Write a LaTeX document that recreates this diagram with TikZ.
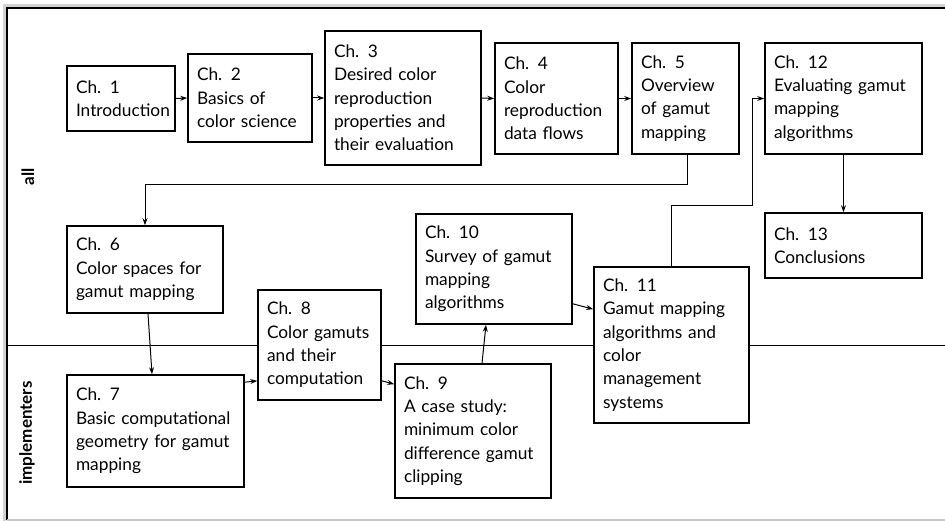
\documentclass[tikz,border=0pt]{standalone}
\usepackage{fontspec}
\setmainfont{Lato}
\usepackage{tikz}
\usetikzlibrary{positioning,calc,arrows.meta}

\tikzset{
	chapbox/.style={draw,line width=1.6pt,fill=white,rectangle,align=left,
		inner xsep=9pt,inner ysep=0pt,font=\fontsize{17.3}{23.3}\selectfont},
	grouplabel/.style={rotate=90,font=\fontsize{17}{20}\selectfont\bfseries},
}

\begin{document}
\begin{tikzpicture}[x=1pt,y=-1pt,>={Stealth[length=7pt,width=5pt]},line width=1pt]
\useasboundingbox (0,0) rectangle (945,521);

% frame and the line between the two groups
\draw[gray!35,line width=3pt] (4.5,530) -- (4.5,5.5) -- (960,5.5);
\draw[line width=1.8pt] (7,520) -- (7,8) -- (960,8);
\draw[gray!45,line width=1.5pt] (7,520) -- (960,520);
\draw (7,345) -- (960,345);

\node[grouplabel] (all) at (28,177) {all};
\node[grouplabel] (impl) at (27,433) {implementers};

\node[chapbox,text width=90pt, minimum height=65pt ] (c1)  at (121,98.5)   {Ch. 1\\Introduction};
\node[chapbox,text width=106pt,minimum height=88pt ] (c2)  at (250,98)     {Ch. 2\\Basics of\\color science};
\node[chapbox,text width=138pt,minimum height=134pt] (c3)  at (403,98)     {Ch. 3\\Desired color\\reproduction\\properties and\\their evaluation};
\node[chapbox,text width=105pt,minimum height=111pt] (c4)  at (556.5,98.5) {Ch. 4\\Color\\reproduction\\data flows};
\node[chapbox,text width=89pt, minimum height=111pt] (c5)  at (685.5,98.5) {Ch. 5\\Overview\\of gamut\\mapping};
\node[chapbox,text width=139pt,minimum height=111pt] (c12) at (843.5,98.5) {Ch. 12\\Evaluating gamut\\mapping\\algorithms};
\node[chapbox,text width=139pt,minimum height=65pt ] (c13) at (843.5,245.5){Ch. 13\\Conclusions};
\node[chapbox,text width=138pt,minimum height=87pt ] (c6)  at (145,269.5)  {Ch. 6\\Color spaces for\\gamut mapping};
\node[chapbox,text width=138pt,minimum height=110pt] (c10) at (494,269)    {Ch. 10\\Survey of gamut\\mapping\\algorithms};
\node[chapbox,text width=105pt,minimum height=110pt] (c8)  at (319.5,345)  {Ch. 8\\Color gamuts\\and their\\computation};
\node[chapbox,text width=137pt,minimum height=156pt] (c11) at (671.5,345)  {Ch. 11\\Gamut mapping\\algorithms and\\color\\management\\systems};
\node[chapbox,text width=159pt,minimum height=112pt] (c7)  at (155.5,431)  {Ch. 7\\Basic computational\\geometry for gamut\\mapping};
\node[chapbox,text width=138pt,minimum height=134pt] (c9)  at (473,431)    {Ch. 9\\A case study:\\minimum color\\difference gamut\\clipping};

\draw[->](c1.east)-- (c2.west);
\draw[->](c2.east)-- (c3.west);
\draw[->](c3.east)-- (c4.west);
\draw[->](c4.east)-- (c5.west);
\draw[->]([xshift=1.5pt]c5.south)-- ++(0,30) -| (c6.north);
\draw[->]([xshift=3pt]c6.south)-- ([xshift=-3.5pt]c7.north);
\draw[->]([yshift=-8pt]c7.north east)-- ([yshift=20pt]c8.south west);
\draw[->]([yshift=20pt]c8.south east)-- ([yshift=-21pt]c9.north west);
\draw[->]([xshift=9pt]c9.north)-- ([xshift=-8pt]c10.south);
\draw[->]([yshift=21pt]c10.south east)-- ([yshift=-43pt]c11.north west);
\draw[->](c11.north)-- ++(0,-61) -- ++(81,0) |- (c12.west);
\draw[->](c12.south)-- (c13.north);
\end{tikzpicture}
\end{document}
